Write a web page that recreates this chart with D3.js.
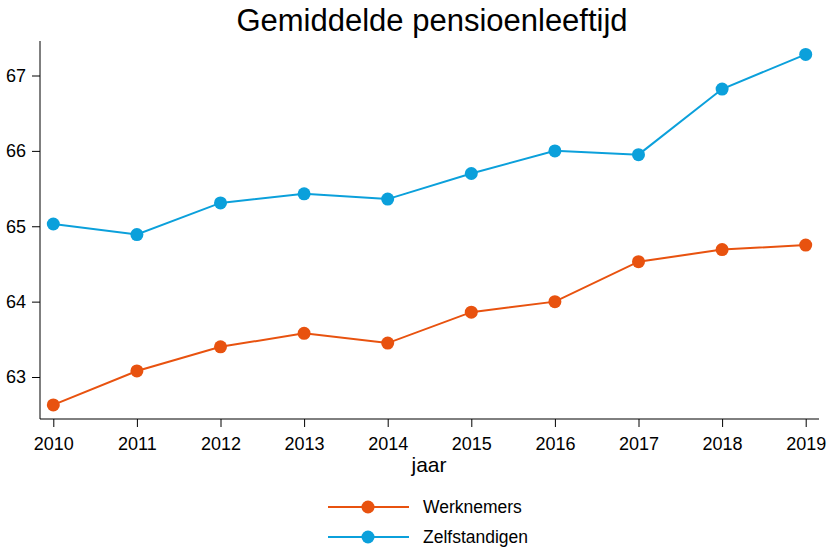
<!DOCTYPE html>
<html>
<head>
<meta charset="utf-8">
<script src="https://cdn.jsdelivr.net/npm/d3@7"></script>
<style>
  body { margin: 0; background: #fff; }
  svg { display: block; font-family: "Liberation Sans", Arial, sans-serif; }
</style>
</head>
<body>
<svg id="chart" width="827" height="548"></svg>
<script>
const years = [2010, 2011, 2012, 2013, 2014, 2015, 2016, 2017, 2018, 2019];
const werknemers = [62.63, 63.08, 63.40, 63.58, 63.45, 63.86, 64.00, 64.53, 64.69, 64.75];
const zelfstandigen = [65.03, 64.89, 65.31, 65.43, 65.36, 65.70, 66.00, 65.95, 66.82, 67.28];
const yTicks = [63, 64, 65, 66, 67];
const seriesNames = ["Werknemers", "Zelfstandigen"];
const colors = ["#e8520f", "#0ba0db"];

const svg = d3.select("#chart");
const x = d3.scaleLinear().domain([2010, 2019]).range([53.3, 805.7]);
const y = d3.scaleLinear().domain([63, 67]).range([377, 75.5]);
const font = "Liberation Sans, Arial, sans-serif";

// title
svg.append("text").attr("x", 432).attr("y", 31).attr("text-anchor", "middle")
  .attr("font-size", 31).attr("fill", "#000").text("Gemiddelde pensioenleeftijd");

// y axis
const yAxis = svg.append("g").attr("transform", "translate(40,0)")
  .call(d3.axisLeft(y).tickValues(yTicks).tickFormat(d3.format("d")).tickSize(8).tickPadding(6));
yAxis.select(".domain").remove();
yAxis.append("line").attr("x1", 0).attr("x2", 0).attr("y1", 41).attr("y2", 419).attr("stroke", "#000");
yAxis.selectAll(".tick line").attr("stroke", "#000");
yAxis.selectAll(".tick text").attr("font-size", 18).attr("fill", "#000").attr("font-family", font);

// x axis
const xAxis = svg.append("g").attr("transform", "translate(0,419)")
  .call(d3.axisBottom(x).tickValues(years).tickFormat(d3.format("d")).tickSize(8).tickPadding(10));
xAxis.select(".domain").remove();
xAxis.append("line").attr("x1", 40).attr("x2", 819).attr("y1", 0).attr("y2", 0).attr("stroke", "#000");
xAxis.selectAll(".tick line").attr("stroke", "#000");
xAxis.selectAll(".tick text").attr("font-size", 18).attr("fill", "#000").attr("font-family", font);

svg.append("text").attr("x", 429).attr("y", 472).attr("text-anchor", "middle")
  .attr("font-size", 21).attr("fill", "#000").text("jaar");

const data = [werknemers, zelfstandigen];
const line = d3.line().x((d, i) => x(years[i])).y(d => y(d));
data.forEach((vals, k) => {
  svg.append("path").datum(vals).attr("d", line).attr("fill", "none")
    .attr("stroke", colors[k]).attr("stroke-width", 2);
  svg.append("g").selectAll("circle").data(vals).join("circle")
    .attr("cx", (d, i) => x(years[i])).attr("cy", d => y(d)).attr("r", 6.5)
    .attr("fill", colors[k]);
});

// legend
const legend = svg.append("g");
seriesNames.forEach((name, k) => {
  const ly = 507 + k * 30;
  legend.append("line").attr("x1", 328).attr("x2", 409).attr("y1", ly).attr("y2", ly)
    .attr("stroke", colors[k]).attr("stroke-width", 2);
  legend.append("circle").attr("cx", 368).attr("cy", ly).attr("r", 6.5).attr("fill", colors[k]);
  legend.append("text").attr("x", 423).attr("y", ly + 6).attr("font-size", 17.5)
    .attr("fill", "#000").text(name);
});
</script>
</body>
</html>
